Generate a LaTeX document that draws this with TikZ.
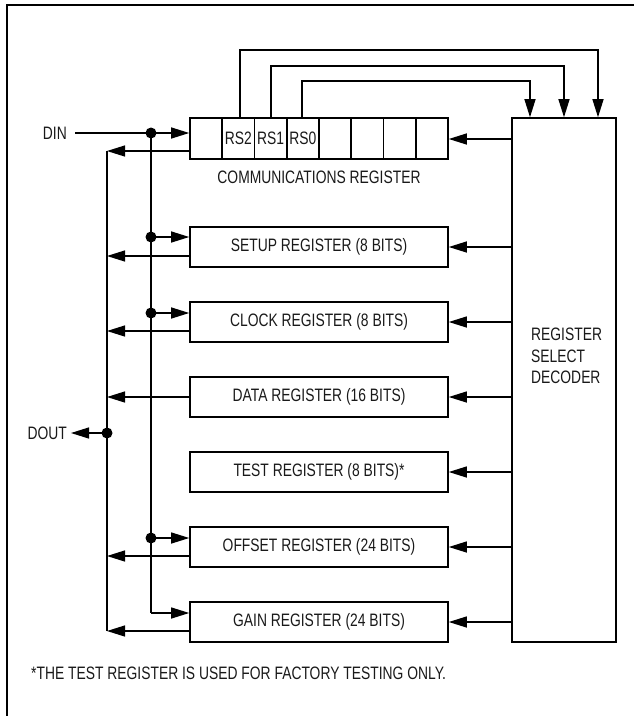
\documentclass[tikz,border=0pt]{standalone}
\usepackage{fontspec}
\usetikzlibrary{arrows.meta,calc}
\newfontfamily\condfont[FakeStretch=0.77]{Liberation Sans}
\begin{document}
\begin{tikzpicture}[x=1pt,y=-1pt,
  every node/.style={font=\condfont\fontsize{18}{21.5}\selectfont, text=black!90},
  line/.style={line width=1.3pt, black},
  arr/.style={line, -{Triangle[length=18pt,width=11pt]}},
  regbox/.style={draw, line width=1.6pt, minimum width=258pt, minimum height=40pt, inner sep=0pt},
  cellbox/.style={draw, line width=1.6pt, minimum width=32.25pt, minimum height=41pt, inner sep=0pt},
  lbl/.style={inner sep=0pt},
  jdot/.style={fill=black}
]
\useasboundingbox (0,0) rectangle (633,716);
% frame
\draw[line width=2.6pt] (7,730) -- (7,5) -- (645,5);

% communications register cells
\foreach \i in {1,...,8}{
  \node[cellbox] (c\i) at ({190+32.25*(\i-0.5)},138.5) {};
}
\node[lbl] at (c2) {RS2};
\node[lbl] at (c3) {RS1};
\node[lbl] at (c4) {RS0};
\node[lbl] (commlbl) at (319,177) {COMMUNICATIONS REGISTER};

% registers
\node[regbox] (setup)  at (319,247) {SETUP REGISTER (8 BITS)};
\node[regbox] (clock)  at (319,322) {CLOCK REGISTER (8 BITS)};
\node[regbox] (data)   at (319,397) {DATA REGISTER (16 BITS)};
\node[regbox] (test)   at (319,472) {TEST REGISTER (8 BITS)*};
\node[regbox] (offset) at (319,547) {OFFSET REGISTER (24 BITS)};
\node[regbox] (gain)   at (319,622) {GAIN REGISTER (24 BITS)};

% decoder
\node[draw, line width=1.6pt, minimum width=104pt, minimum height=524pt, inner sep=0pt] (dec) at (564,380) {};
\node[lbl, anchor=west, align=left] (dectxt) at (531,356) {REGISTER\\SELECT\\DECODER};

% labels
\node[lbl, anchor=east] (din) at (67,133) {DIN};
\node[lbl, anchor=east] (dout) at (67,433) {DOUT};
\node[lbl, anchor=west] (note) at (31,673) {*THE TEST REGISTER IS USED FOR FACTORY TESTING ONLY.};

% coordinates
\coordinate (dinstart) at (75,133);
\coordinate (ij0) at (151,133);
\coordinate (ij1) at (151,237);
\coordinate (ij2) at (151,313);
\coordinate (ij3) at (151,538);
\coordinate (ij4) at (151,613);
\coordinate (ob0) at (107,151);
\coordinate (ob1) at (107,256);
\coordinate (ob2) at (107,331);
\coordinate (ob3) at (107,397);
\coordinate (ob4) at (107,556);
\coordinate (ob5) at (107,631);
\coordinate (dj) at (107,433);
\coordinate (doutend) at (71,433);
\coordinate (t2) at (240,50);
\coordinate (t1) at (271,66);
\coordinate (t0) at (302,81);
\coordinate (d2) at (598,50);
\coordinate (d1) at (564,66);
\coordinate (d0) at (530,81);

% DIN input and bus
\draw[arr] (dinstart) -- (c1.west |- dinstart);
\draw[line] (ij0) -- (ij4);
\draw[arr] (ij1) -- (setup.west |- ij1);
\draw[arr] (ij2) -- (clock.west |- ij2);
\draw[arr] (ij3) -- (offset.west |- ij3);
\draw[arr] (ij4) -- (gain.west |- ij4);
\foreach \j in {ij0,ij1,ij2,ij3}{ \fill[jdot] (\j) circle (5.5pt); }

% DOUT bus and outputs
\draw[line] (ob0) -- (ob5);
\draw[arr] (c1.west |- ob0) -- (ob0);
\draw[arr] (setup.west |- ob1) -- (ob1);
\draw[arr] (clock.west |- ob2) -- (ob2);
\draw[arr] (data.west |- ob3) -- (ob3);
\draw[arr] (offset.west |- ob4) -- (ob4);
\draw[arr] (gain.west |- ob5) -- (ob5);
\draw[arr] (dj) -- (doutend);
\fill[jdot] (dj) circle (5.5pt);

% decoder to registers
\draw[arr] (dec.west |- 0,139) -- (c8.east |- 0,139);
\foreach \r in {setup,clock,data,test,offset,gain}{
  \draw[arr] (dec.west |- \r.east) -- (\r.east);
}

% RS feedback to decoder
\draw[arr] (c2.north -| t2) -- (t2) -- (d2) -- (dec.north -| d2);
\draw[arr] (c3.north -| t1) -- (t1) -- (d1) -- (dec.north -| d1);
\draw[arr] (c4.north -| t0) -- (t0) -- (d0) -- (dec.north -| d0);
\end{tikzpicture}
\end{document}
